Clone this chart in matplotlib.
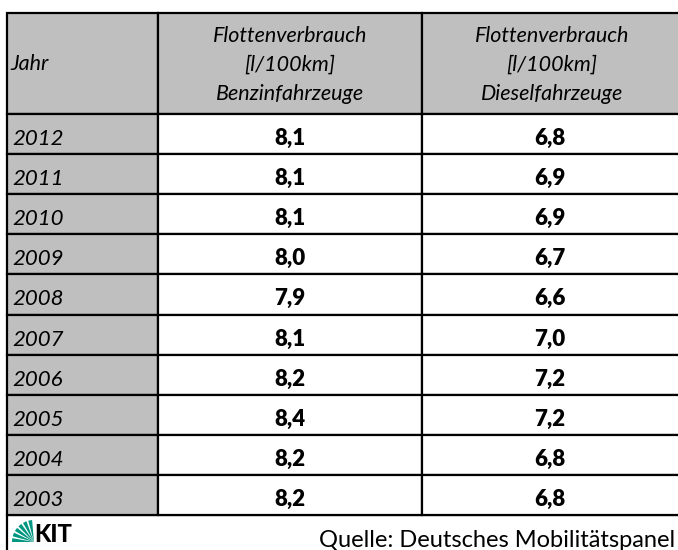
import matplotlib
matplotlib.use("Agg")

import matplotlib.pyplot as plt
from matplotlib.patches import Rectangle, Wedge

# ── Data ──────────────────────────────────────────────────────────────────────
years = ["2012", "2011", "2010", "2009", "2008", "2007", "2006", "2005", "2004", "2003"]
benzin = ["8,1", "8,1", "8,1", "8,0", "7,9", "8,1", "8,2", "8,4", "8,2", "8,2"]
diesel = ["6,8", "6,9", "6,9", "6,7", "6,6", "7,0", "7,2", "7,2", "6,8", "6,8"]
header = ["Jahr",
          "Flottenverbrauch\n[l/100km]\nBenzinfahrzeuge",
          "Flottenverbrauch\n[l/100km]\nDieselfahrzeuge"]
source = "Quelle: Deutsches Mobilitätspanel"

# ── Style ─────────────────────────────────────────────────────────────────────
GRAY = "#bfbfbf"
LINE = "#000000"
KIT_GREEN = "#009682"
FONT = ["Lato", "DejaVu Sans"]

W, H = 678, 550
col_x = [7, 158, 422, 682]      # column edges (px)
top, head_bot = 13, 114
row_h = (515 - head_bot) / len(years)

fig = plt.figure(figsize=(W / 100, H / 100), dpi=100)
ax = fig.add_axes([0, 0, 1, 1])
ax.set_xlim(0, W)
ax.set_ylim(H, 0)
ax.axis("off")

# footer box (left border continues below the table)
ax.add_patch(Rectangle((col_x[0], 515), col_x[3] - col_x[0], 60,
                       facecolor="white", edgecolor=LINE, linewidth=1.6, zorder=0))

# header cells
for i in range(3):
    ax.add_patch(Rectangle((col_x[i], top), col_x[i + 1] - col_x[i], head_bot - top,
                           facecolor=GRAY, edgecolor=LINE, linewidth=1.6, zorder=1))
ax.text(col_x[0] + 3, 64, header[0], ha="left", va="center",
        style="italic", fontsize=15.5, family=FONT)
for i in (1, 2):
    ax.text((col_x[i] + col_x[i + 1]) / 2, 65, header[i],
            ha="center", va="center", style="italic", fontsize=15.5, family=FONT,
            linespacing=1.55)

# body rows
for r, (yr, b, d) in enumerate(zip(years, benzin, diesel)):
    y0 = head_bot + r * row_h
    yb = y0 + 31
    for i, fc in enumerate([GRAY, "white", "white"]):
        ax.add_patch(Rectangle((col_x[i], y0), col_x[i + 1] - col_x[i], row_h,
                               facecolor=fc, edgecolor=LINE, linewidth=1.6, zorder=1))
    ax.text(col_x[0] + 5, yb, yr, ha="left", va="baseline", style="italic",
            fontsize=16, family=FONT)
    ax.text((col_x[1] + col_x[2]) / 2, yb, b, ha="center", va="baseline",
            fontweight="heavy", fontsize=16, family=FONT)
    ax.text((col_x[2] + col_x[3]) / 2 - 2, yb, d, ha="center", va="baseline",
            fontweight="heavy", fontsize=16, family=FONT)

# footer: KIT logo (green fan + letters) + source
cx, cy, rad = 34, 542, 22
for k in range(6):
    a0 = 180 + k * 15          # y axis is inverted: 180..270 opens up-left on screen
    ax.add_patch(Wedge((cx, cy), rad, a0, a0 + 10, facecolor=KIT_GREEN,
                       edgecolor="none", zorder=2))
ax.text(cx, cy, "KIT", ha="left", va="baseline", fontsize=17,
        fontweight="black", family=FONT, color="black")
ax.text(675, 547, source, ha="right", va="baseline", fontsize=17, family=FONT)

fig.savefig("out.png", dpi=100, facecolor="white")
